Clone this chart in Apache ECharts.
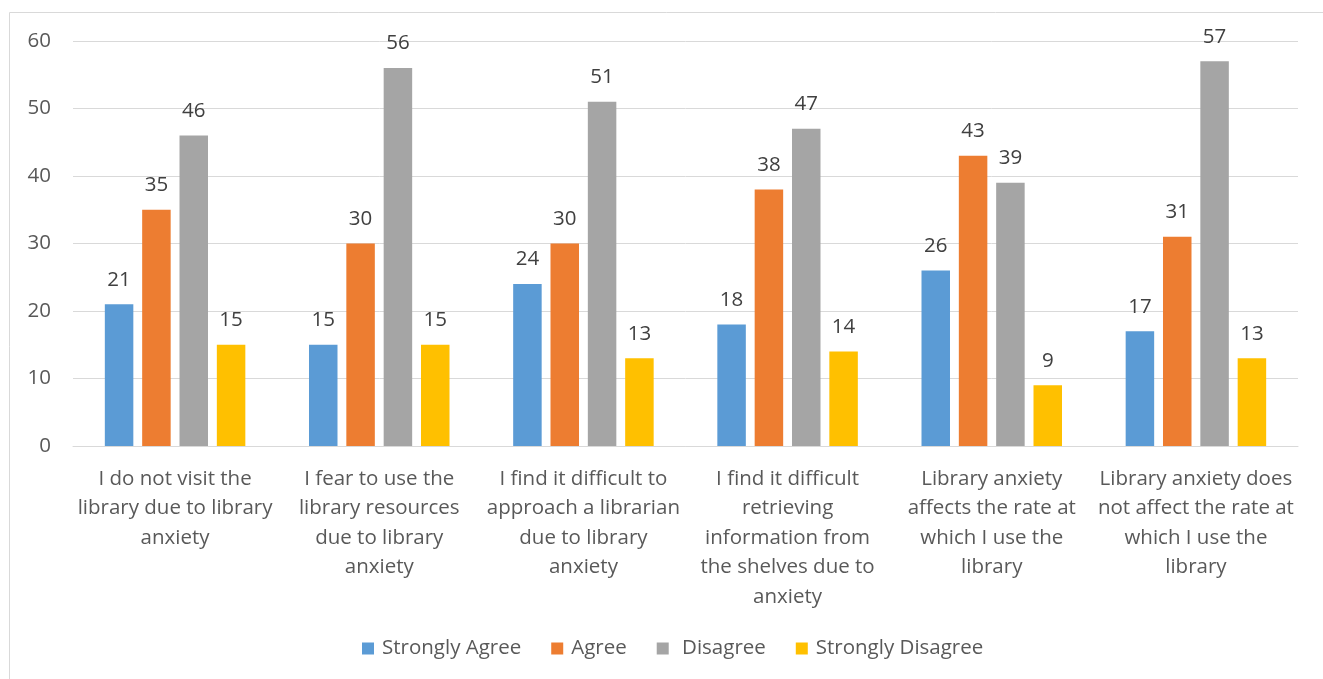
<!DOCTYPE html>
<html>
<head>
<meta charset="utf-8">
<script src="https://cdn.jsdelivr.net/npm/echarts@6/dist/echarts.min.js"></script>
<style>
  html, body { margin: 0; padding: 0; background: #fff; }
  #chart { width: 1323px; height: 679px; }
</style>
</head>
<body>
<div id="chart"></div>
<script>
// Survey statements (x-axis categories)
const categories = [
  'I do not visit the\nlibrary due to library\nanxiety',
  'I fear to use the\nlibrary resources\ndue to library\nanxiety',
  'I find it difficult to\napproach a librarian\ndue to library\nanxiety',
  'I find it difficult\nretrieving\ninformation from\nthe shelves due to\nanxiety',
  'Library anxiety\naffects the rate at\nwhich I use the\nlibrary',
  'Library anxiety does\nnot affect the rate at\nwhich I use the\nlibrary'
];

// Response counts per answer option
const stronglyAgree    = [21, 15, 24, 18, 26, 17];
const agree            = [35, 30, 30, 38, 43, 31];
const disagree         = [46, 56, 51, 47, 39, 57];
const stronglyDisagree = [15, 15, 13, 14, 9, 13];

const seriesNames = ['Strongly Agree', 'Agree', 'Disagree', 'Strongly Disagree'];
const seriesData = [stronglyAgree, agree, disagree, stronglyDisagree];
const colors = ['#5B9BD5', '#ED7D31', '#A5A5A5', '#FFC000'];

const FONT = '"Open Sans", "Noto Sans", sans-serif';
const TEXT = '#595959';
const FS = 20.5;

const chart = echarts.init(document.getElementById('chart'), null, { renderer: 'canvas' });

chart.setOption({
  animation: false,
  textStyle: { fontFamily: FONT },
  graphic: [{
    type: 'rect',
    shape: { x: 9.5, y: 12.5, width: 1400, height: 800 },
    style: { fill: 'none', stroke: '#D9D9D9', lineWidth: 1 },
    silent: true
  }],
  grid: { left: 73, right: 25, top: 41, bottom: 233, containLabel: false },
  legend: {
    data: seriesNames,
    top: 633,
    left: 357,
    itemWidth: 12,
    itemHeight: 12,
    itemGap: 30,
    icon: 'rect',
    formatter: name => (name === 'Disagree' ? ' ' + name : name),
    textStyle: { color: TEXT, fontSize: FS, fontFamily: FONT, padding: [0, 0, 0, 3] }
  },
  xAxis: {
    type: 'category',
    data: categories,
    axisLine: { show: true, lineStyle: { color: '#D9D9D9', width: 1 } },
    axisTick: { show: false },
    axisLabel: {
      color: TEXT,
      fontSize: FS,
      lineHeight: 29.5,
      margin: 18,
      interval: 0,
      fontFamily: FONT
    }
  },
  yAxis: {
    type: 'value',
    min: 0,
    max: 60,
    interval: 10,
    axisLine: { show: false },
    axisTick: { show: false },
    splitLine: { lineStyle: { color: '#D9D9D9', width: 1 } },
    axisLabel: { color: TEXT, fontSize: FS, margin: 22, fontFamily: FONT }
  },
  series: seriesNames.map((name, i) => ({
    name: name,
    type: 'bar',
    data: seriesData[i],
    barWidth: 28.5,
    barGap: '31%',
    itemStyle: { color: colors[i] },
    label: {
      show: true,
      position: 'top',
      distance: 14,
      color: '#404040',
      fontSize: FS,
      fontFamily: FONT
    }
  }))
});
</script>
</body>
</html>
